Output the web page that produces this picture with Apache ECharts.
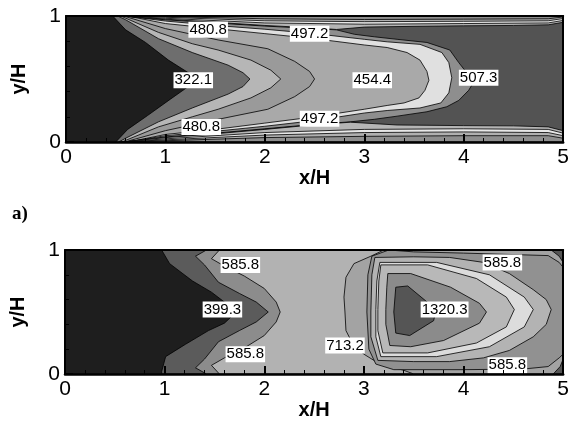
<!DOCTYPE html>
<html><head><meta charset="utf-8">
<script src="https://cdn.jsdelivr.net/npm/echarts@6/dist/echarts.min.js"></script>
<style>html,body{margin:0;padding:0;background:#fff}#c{width:572px;height:422px}</style>
</head><body><div id="c"></div>
<script>
// ---------- axes ----------
const xTickValues = [0, 1, 2, 3, 4, 5];
const yTickValues = [0, 1];
const panelLabel = 'a)';

// ---------- top panel: contour regions (x/H, y/H) ----------
const topDomain = [[0,0],[5,0],[5,1],[0,1]];
const topT1 = [[0.47,1],[0.6,0.89],[0.8,0.79],[1.03,0.65],[1.23,0.55],[1.38,0.5],[1.23,0.44],[1.05,0.34],[0.82,0.21],[0.62,0.1],[0.5,0],[5,0],[5,1]];
const topT2 = [[0.52,1],[0.6,0.97],[0.93,0.82],[1.27,0.71],[1.63,0.61],[1.78,0.55],[1.85,0.5],[1.78,0.44],[1.63,0.38],[1.27,0.27],[0.93,0.16],[0.6,0.03],[0.53,0],[5,0],[5,1]];
const topT3 = [[0.55,1],[0.93,0.87],[1.27,0.78],[1.53,0.73],[1.86,0.65],[2.06,0.57],[2.16,0.5],[2.06,0.43],[1.86,0.35],[1.53,0.26],[1.27,0.2],[0.93,0.12],[0.56,0],[5,0],[5,1]];
const topT4 = [[0.58,1],[1.0,0.9],[1.53,0.81],[2.03,0.74],[2.3,0.64],[2.45,0.56],[2.5,0.5],[2.45,0.44],[2.3,0.36],[2.03,0.26],[1.53,0.18],[1.0,0.09],[0.59,0],[5,0],[5,1]];
const topT5 = [[0.62,1],[1.0,0.94],[1.5,0.9],[2.0,0.86],[2.5,0.82],[3.0,0.77],[3.23,0.75],[3.43,0.71],[3.56,0.65],[3.63,0.56],[3.65,0.49],[3.61,0.41],[3.55,0.35],[3.4,0.31],[3.23,0.29],[3.0,0.26],[2.5,0.2],[2.0,0.15],[1.5,0.1],[1.0,0.06],[0.63,0],[5,0],[5,1]];
const topT6 = [[0.6,1],[1.0,0.96],[1.5,0.925],[2.0,0.895],[2.5,0.86],[3.0,0.815],[3.23,0.795],[3.56,0.775],[3.78,0.71],[3.85,0.63],[3.88,0.51],[3.85,0.39],[3.77,0.31],[3.56,0.27],[3.23,0.25],[3.0,0.23],[2.5,0.17],[2.0,0.125],[1.5,0.085],[1.0,0.05],[0.61,0],[5,0],[5,1]];
const topT7 = [[0.58,1],[1.0,0.97],[1.5,0.945],[2.0,0.92],[2.5,0.9],[2.72,0.89],[2.9,0.855],[3.1,0.835],[3.33,0.815],[3.63,0.79],[3.86,0.73],[3.95,0.63],[4.03,0.55],[4.11,0.49],[4.05,0.41],[3.95,0.33],[3.83,0.28],[3.63,0.24],[3.33,0.205],[3.1,0.18],[2.86,0.16],[2.5,0.14],[2.0,0.105],[1.5,0.07],[1.0,0.04],[0.59,0],[5,0],[5,1]];
const topS8a = [[0.56,1],[1.0,0.975],[1.5,0.95],[2.0,0.925],[2.5,0.905],[2.72,0.893],[3.0,0.912],[3.5,0.918],[4.0,0.922],[4.5,0.925],[4.85,0.93],[5,0.95],[5,1]];
const topS8b = [[0.57,0],[1.0,0.035],[1.5,0.065],[2.0,0.1],[2.5,0.137],[2.86,0.157],[3.33,0.135],[4.0,0.13],[4.5,0.128],[4.85,0.12],[5,0.09],[5,0]];
const topS9a = [[0.55,1],[1.0,0.982],[2.0,0.945],[3.0,0.935],[4.0,0.94],[4.85,0.945],[5,0.965],[5,1]];
const topS9b = [[0.56,0],[1.0,0.025],[2.0,0.075],[3.0,0.1],[4.0,0.105],[4.85,0.1],[5,0.07],[5,0]];
const topS10a = [[0.54,1],[1.0,0.99],[2.0,0.962],[3.0,0.955],[4.0,0.958],[4.85,0.962],[5,0.98],[5,1]];
const topS10b = [[0.55,0],[1.0,0.017],[2.0,0.055],[3.0,0.075],[4.0,0.08],[4.85,0.075],[5,0.05],[5,0]];
const topS11a = [[0.53,1],[1.0,0.995],[2.0,0.978],[3.0,0.972],[4.0,0.975],[4.85,0.978],[5,0.992],[5,1]];
const topS11b = [[0.54,0],[1.0,0.01],[2.0,0.035],[3.0,0.045],[4.0,0.05],[4.85,0.05],[5,0.03],[5,0]];
const topRegions = [topDomain, topT1, topT2, topT3, topT4, topT5, topT6, topT7, topS8a, topS8b, topS9a, topS9b, topS10a, topS10b, topS11a, topS11b];
const topLabelNames = ['480.8','497.2','322.1','454.4','507.3','480.8','497.2'];
const topLabelX = [1.43, 2.45, 1.28, 3.08, 4.15, 1.36, 2.55];
const topLabelY = [0.89, 0.86, 0.49, 0.49, 0.51, 0.12, 0.185];

// ---------- bottom panel ----------
const botDomain = [[0,0],[5,0],[5,1],[0,1]];
const botD1 = [[0.97,1],[1.05,0.89],[1.28,0.75],[1.47,0.66],[1.6,0.58],[1.72,0.5],[1.6,0.41],[1.44,0.35],[1.21,0.24],[1.01,0.14],[0.97,0.02],[0.97,0],[5,0],[5,1]];
const botD2 = [[1.42,1],[1.31,0.95],[1.4,0.88],[1.54,0.74],[1.75,0.65],[1.92,0.58],[2.04,0.5],[1.92,0.42],[1.75,0.35],[1.54,0.26],[1.4,0.12],[1.31,0.05],[1.42,0],[5,0],[5,1]];
const botD3 = [[1.55,1],[1.47,0.93],[1.6,0.87],[1.8,0.79],[2.0,0.69],[2.12,0.58],[2.16,0.5],[2.12,0.42],[2.0,0.31],[1.8,0.21],[1.6,0.13],[1.47,0.07],[1.55,0],[5,0],[5,1]];
const botD4 = [[3.2,1],[3.07,0.95],[2.9,0.89],[2.82,0.78],[2.8,0.62],[2.81,0.5],[2.82,0.35],[2.89,0.24],[3.0,0.16],[3.1,0.11],[3.25,0.06],[3.4,0.03],[3.5,0],[5,0],[5,1]];
const botE1 = [[3.25,1],[3.08,0.95],[3.04,0.8],[3.03,0.5],[3.05,0.2],[3.12,0.08],[3.3,0.035],[4.0,0.035],[4.6,0.04],[4.85,0.06],[4.96,0.13],[5,0.16],[5,0.86],[4.96,0.9],[4.85,0.955],[4.0,0.975],[3.5,0.985]];
const botCornerA = [[4.88,1],[4.96,0.95],[5,0.9],[5,1]];
const botCornerB = [[4.9,0],[4.97,0.06],[5,0.12],[5,0]];
const botE2 = [[3.11,0.94],[3.5,0.945],[3.86,0.94],[4.2,0.9],[4.46,0.81],[4.7,0.68],[4.83,0.6],[4.88,0.52],[4.83,0.4],[4.7,0.3],[4.46,0.19],[4.2,0.13],[3.86,0.1],[3.5,0.1],[3.14,0.11],[3.07,0.3],[3.07,0.5],[3.08,0.8]];
const botE3 = [[3.16,0.9],[3.73,0.9],[4.26,0.8],[4.61,0.62],[4.7,0.52],[4.61,0.38],[4.26,0.22],[3.73,0.14],[3.17,0.14],[3.12,0.3],[3.12,0.52],[3.13,0.75]];
const botE4 = [[3.17,0.88],[3.64,0.88],[4.13,0.77],[4.43,0.62],[4.51,0.52],[4.43,0.38],[4.13,0.25],[3.64,0.17],[3.19,0.17],[3.14,0.35],[3.14,0.52],[3.15,0.75]];
const botE5 = [[3.24,0.81],[3.47,0.81],[3.87,0.7],[4.16,0.57],[4.23,0.5],[4.16,0.41],[3.8,0.27],[3.47,0.22],[3.26,0.23],[3.22,0.4],[3.22,0.52],[3.23,0.7]];
const botCore = [[3.32,0.7],[3.44,0.71],[3.65,0.57],[3.72,0.5],[3.7,0.43],[3.46,0.31],[3.32,0.33],[3.3,0.5]];
const botRegions = [botDomain, botD1, botD2, botD3, botD4, botE1, botCornerA, botCornerB, botE2, botE3, botE4, botE5, botCore];
const botLabelNames = ['585.8','399.3','585.8','713.2','1320.3','585.8','585.8'];
const botLabelX = [1.76, 1.58, 1.81, 2.81, 3.81, 4.39, 4.44];
const botLabelY = [0.88, 0.52, 0.16, 0.23, 0.52, 0.90, 0.07];

// ---------- styles ----------
const topFills = ['#1e1e1e','#6e6e6e','#b6b6b6','#9a9a9a','#a9a9a9','#e0e0e0','#8e8e8e','#535353','#b5b5b5','#b5b5b5','#e8e8e8','#e8e8e8','#b0b0b0','#b0b0b0','#8e8e8e','#8e8e8e'];
const botFills = ['#1e1e1e','#5b5b5b','#8c8c8c','#b2b2b2','#a3a3a3','#919191','#555555','#555555','#b3b3b3','#dcdcdc','#b8b8b8','#8b8b8b','#555555'];
const FONT = 'Liberation Sans, Arial, sans-serif';

function regionSeries(regions, fills, gi) {
  return {
    type: 'custom', xAxisIndex: gi * 2, yAxisIndex: gi * 2, clip: true, z: 2,
    data: regions.map((r, i) => [0.5, 0.5, i]),
    renderItem: function (params, api) {
      const i = api.value(2);
      const pts = regions[i].map(p => api.coord(p));
      return { type: 'polygon', shape: { points: pts },
        style: { fill: fills[i], stroke: i === 0 ? null : '#000', lineWidth: 0.8 } };
    }
  };
}
function labelSeries(names, xs, ys, gi) {
  return {
    type: 'scatter', xAxisIndex: gi * 2, yAxisIndex: gi * 2, symbolSize: 0, z: 5,
    itemStyle: { opacity: 1 },
    data: names.map((n, i) => [xs[i], ys[i], n]),
    label: { show: true, position: 'inside', formatter: p => p.value[2],
      backgroundColor: '#fff', color: '#000', fontSize: 15, fontFamily: FONT,
      padding: [1, 1, 0, 1], lineHeight: 15, opacity: 1 },
    emphasis: { disabled: true }, silent: true
  };
}
function xAxes(gi, gap) {
  return [{
    gridIndex: gi, type: 'value', min: 0, max: 5, interval: 1, position: 'bottom', z: 10,
    axisLine: { show: true, onZero: false, lineStyle: { color: '#000', width: 2.5 } },
    axisTick: { show: true, inside: true, length: 8, lineStyle: { color: '#000', width: 2 } },
    minorTick: { show: true, splitNumber: 5, length: 4, lineStyle: { color: '#000', width: 1 } },
    axisLabel: { color: '#000', fontSize: 21, fontFamily: FONT, margin: 5,
      formatter: v => xTickValues.includes(v) ? String(v) : '' },
    splitLine: { show: false },
    name: 'x/H', nameLocation: 'middle', nameGap: gap,
    nameTextStyle: { color: '#000', fontSize: 20, fontWeight: 'bold', fontFamily: FONT }
  }, {
    gridIndex: gi, type: 'value', min: 0, max: 5, position: 'top', z: 10,
    axisLine: { show: true, onZero: false, lineStyle: { color: '#000', width: 2 } },
    axisTick: { show: false }, axisLabel: { show: false }, splitLine: { show: false }
  }];
}
function yAxes(gi) {
  return [{
    gridIndex: gi, type: 'value', min: 0, max: 1, interval: 1, position: 'left', z: 10,
    axisLine: { show: true, onZero: false, lineStyle: { color: '#000', width: 2 } },
    axisTick: { show: true, inside: true, length: 8, lineStyle: { color: '#000', width: 2 } },
    minorTick: { show: true, splitNumber: 5, length: 4, lineStyle: { color: '#000', width: 1 } },
    axisLabel: { color: '#000', fontSize: 21, fontFamily: FONT, margin: 5,
      formatter: v => yTickValues.includes(v) ? String(v) : '' },
    splitLine: { show: false },
    name: 'y/H', nameLocation: 'middle', nameGap: 37,
    nameTextStyle: { color: '#000', fontSize: 20, fontWeight: 'bold', fontFamily: FONT }
  }, {
    gridIndex: gi, type: 'value', min: 0, max: 1, position: 'right', z: 10,
    axisLine: { show: true, onZero: false, lineStyle: { color: '#000', width: 2 } },
    axisTick: { show: false }, axisLabel: { show: false }, splitLine: { show: false }
  }];
}

const chart = echarts.init(document.getElementById('c'), null, { renderer: 'canvas' });
chart.setOption({
  animation: false,
  backgroundColor: '#fff',
  textStyle: { fontFamily: FONT },
  title: { text: panelLabel, left: 7, top: 200,
    textStyle: { fontFamily: 'Liberation Serif, serif', fontWeight: 'bold', fontSize: 19, color: '#000' } },
  grid: [
    { left: 66, top: 16, width: 501, height: 126 },
    { left: 65, top: 250, width: 502, height: 124 }
  ],
  xAxis: [...xAxes(0, 24), ...xAxes(1, 18)],
  yAxis: [...yAxes(0), ...yAxes(1)],
  series: [
    regionSeries(topRegions, topFills, 0),
    labelSeries(topLabelNames, topLabelX, topLabelY, 0),
    regionSeries(botRegions, botFills, 1),
    labelSeries(botLabelNames, botLabelX, botLabelY, 1)
  ]
});
</script></body></html>
